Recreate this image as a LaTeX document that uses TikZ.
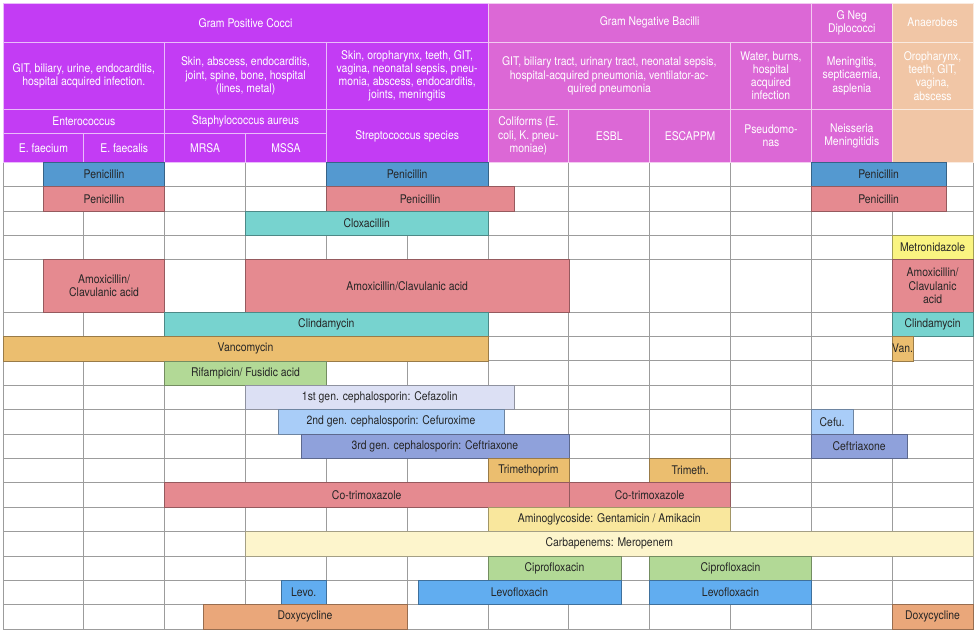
\documentclass[tikz,border=0pt]{standalone}
\usepackage{fontspec}
\setmainfont{TeX Gyre Heros}[FakeStretch=0.87]
\usepackage{tikz}

\definecolor{gposcol}{HTML}{C33CF4}
\definecolor{gnegcol}{HTML}{DC68D6}
\definecolor{anaecol}{HTML}{F1C6A6}
\definecolor{gridcol}{HTML}{9C9C9C}
\definecolor{penblue}{HTML}{5499D0}
\definecolor{penred}{HTML}{E58A90}
\definecolor{tealcol}{HTML}{77D3CF}
\definecolor{metrocol}{HTML}{FAF481}
\definecolor{orangecol}{HTML}{EBBE6F}
\definecolor{greencol}{HTML}{B2D996}
\definecolor{cephA}{HTML}{DCE0F4}
\definecolor{cephB}{HTML}{A9CDF8}
\definecolor{cephC}{HTML}{8FA1DB}
\definecolor{aminocol}{HTML}{F9E79D}
\definecolor{carbacol}{HTML}{FDF5CC}
\definecolor{levocol}{HTML}{61ADF0}
\definecolor{doxycol}{HTML}{EAA77A}

\newcommand{\tabfont}{\fontsize{12}{13.2}\selectfont}

\tikzset{
  cell/.style={draw=gridcol, line width=0.8bp},
  hdr/.style={fill=#1, draw=white!65!#1, line width=0.9bp},
  hdrtext/.style={text=white, align=center, font=\tabfont, inner sep=1bp},
  drug/.style={fill=#1, draw=#1!65!black, line width=0.6bp},
  drugtext/.style={text=black!85, align=center, font=\tabfont, inner sep=0bp},
}

\begin{document}
\begin{tikzpicture}[x=1bp,y=-1bp]
\useasboundingbox (0,0) rectangle (976,633);

% body grid
\foreach \y in {162.3,186.7,211,235.4,259.7,312,336.4,360.8,385.2,409.5,433.9,458.3,482.7,507,531.4,556,580.2,604.6,629}
  \draw[cell] (3,\y) -- (973,\y);
\foreach \x in {3,83.8,164.7,245.5,326.3,407.2,488,568.8,649.7,730.5,811.3,892.2,973}
  \draw[cell] (\x,162.3) -- (\x,629);

% header, row 1
\draw[hdr=gposcol] (3,3) rectangle (488,42.3) node[midway,hdrtext] (gpc) {Gram Positive Cocci};
\draw[hdr=gnegcol] (488,3) rectangle (811.3,42.3) node[midway,hdrtext] (gnb) {Gram Negative Bacilli};
\draw[hdr=gnegcol] (811.3,3) rectangle (892.2,42.3) node[midway,hdrtext] (gnd) {G Neg\\Diplococci};
\draw[hdr=anaecol] (892.2,3) rectangle (973,42.3) node[midway,hdrtext] (anb) {Anaerobes};

% header, row 2
\draw[hdr=gposcol] (3,42.3) rectangle (164.7,109.5) node[midway,hdrtext] (siteEnt) {GIT, biliary, urine, endocarditis,\\hospital acquired infection.};
\draw[hdr=gposcol] (164.7,42.3) rectangle (326.3,109.5) node[midway,hdrtext] (siteSta) {Skin, abscess, endocarditis,\\joint, spine, bone, hospital\\(lines, metal)};
\draw[hdr=gposcol] (326.3,42.3) rectangle (488,109.5) node[midway,hdrtext] (siteStr) {Skin, oropharynx, teeth, GIT,\\vagina, neonatal sepsis, pneu-\\monia, abscess, endocarditis,\\joints, meningitis};
\draw[hdr=gnegcol] (488,42.3) rectangle (730.5,109.5) node[midway,hdrtext] (siteCol) {GIT, biliary tract, urinary tract, neonatal sepsis,\\hospital-acquired pneumonia, ventilator-ac-\\quired pneumonia};
\draw[hdr=gnegcol] (730.5,42.3) rectangle (811.3,109.5) node[midway,hdrtext] (sitePse) {Water, burns,\\hospital\\acquired\\infection};
\draw[hdr=gnegcol] (811.3,42.3) rectangle (892.2,109.5) node[midway,hdrtext] (siteNei) {Meningitis,\\septicaemia,\\asplenia};
\draw[hdr=anaecol] (892.2,42.3) rectangle (973,109.5) node[midway,hdrtext] (siteAna) {Oropharynx,\\teeth, GIT,\\vagina,\\abscess};

% header, rows 3 and 4
\draw[hdr=gposcol] (3,109.5) rectangle (164.7,133.5) node[midway,hdrtext] (ent) {Enterococcus};
\draw[hdr=gposcol] (164.7,109.5) rectangle (326.3,133.5) node[midway,hdrtext] (sta) {Staphylococcus aureus};
\draw[hdr=gposcol] (326.3,109.5) rectangle (488,162.3) node[midway,hdrtext] (str) {Streptococcus species};
\draw[hdr=gnegcol] (488,109.5) rectangle (568.8,162.3) node[midway,hdrtext] (col) {Coliforms (E.\\coli, K. pneu-\\moniae)};
\draw[hdr=gnegcol] (568.8,109.5) rectangle (649.7,162.3) node[midway,hdrtext] (esbl) {ESBL};
\draw[hdr=gnegcol] (649.7,109.5) rectangle (730.5,162.3) node[midway,hdrtext] (escappm) {ESCAPPM};
\draw[hdr=gnegcol] (730.5,109.5) rectangle (811.3,162.3) node[midway,hdrtext] (pse) {Pseudomo-\\nas};
\draw[hdr=gnegcol] (811.3,109.5) rectangle (892.2,162.3) node[midway,hdrtext] (nei) {Neisseria\\Meningitidis};
\draw[hdr=anaecol] (892.2,109.5) rectangle (973,162.3);
\draw[hdr=gposcol] (3,133.5) rectangle (83.8,162.3) node[midway,hdrtext] (fcm) {E. faecium};
\draw[hdr=gposcol] (83.8,133.5) rectangle (164.7,162.3) node[midway,hdrtext] (fcl) {E. faecalis};
\draw[hdr=gposcol] (164.7,133.5) rectangle (245.5,162.3) node[midway,hdrtext] (mrsa) {MRSA};
\draw[hdr=gposcol] (245.5,133.5) rectangle (326.3,162.3) node[midway,hdrtext] (mssa) {MSSA};

% drugs
\draw[drug=penblue] (43.4,162.3) rectangle (164.7,186.7) node[midway,drugtext] (penEnt) {Penicillin};
\draw[drug=penblue] (326.3,162.3) rectangle (488,186.7) node[midway,drugtext] (penStr) {Penicillin};
\draw[drug=penblue] (811.3,162.3) rectangle (946,186.7) node[midway,drugtext] (penNei) {Penicillin};
\draw[drug=penred] (43.4,186.7) rectangle (164.7,211) node[midway,drugtext] (penrEnt) {Penicillin};
\draw[drug=penred] (326.3,186.7) rectangle (514,211) node[midway,drugtext] (penrStr) {Penicillin};
\draw[drug=penred] (811.3,186.7) rectangle (946,211) node[midway,drugtext] (penrNei) {Penicillin};
\draw[drug=tealcol] (245.5,211) rectangle (488,235.4) node[midway,drugtext] (clox) {Cloxacillin};
\draw[drug=metrocol] (892.2,235.4) rectangle (973,259.7) node[midway,drugtext] (metro) {Metronidazole};
\draw[drug=penred] (43.4,259.7) rectangle (164.7,312) node[midway,drugtext] (amoxEnt) {Amoxicillin/\\Clavulanic acid};
\draw[drug=penred] (245.5,259.7) rectangle (568.8,312) node[midway,drugtext] (amoxSta) {Amoxicillin/Clavulanic acid};
\draw[drug=penred] (892.2,259.7) rectangle (973,312) node[midway,drugtext] (amoxAna) {Amoxicillin/\\Clavulanic\\acid};
\draw[drug=tealcol] (164.7,312) rectangle (488,336.4) node[midway,drugtext] (clinda) {Clindamycin};
\draw[drug=tealcol] (892.2,312) rectangle (973,336.4) node[midway,drugtext] (clindaAna) {Clindamycin};
\draw[drug=orangecol] (3,336.4) rectangle (488,360.8) node[midway,drugtext] (vanco) {Vancomycin};
\draw[drug=orangecol] (892.2,336.4) rectangle (913,360.8) node[midway,drugtext] (vancoAna) {Van.};
\draw[drug=greencol] (164.7,360.8) rectangle (326.3,385.2) node[midway,drugtext] (rif) {Rifampicin/ Fusidic acid};
\draw[drug=cephA] (245.5,385.2) rectangle (514,409.5) node[midway,drugtext] (cefA) {1st gen. cephalosporin: Cefazolin};
\draw[drug=cephB] (278,409.5) rectangle (504,433.9) node[midway,drugtext] (cefB) {2nd gen. cephalosporin: Cefuroxime};
\draw[drug=cephB] (811.3,409.5) rectangle (853,433.9) node[midway,drugtext] (cefBNei) {Cefu.};
\draw[drug=cephC] (301,433.9) rectangle (568.8,458.3) node[midway,drugtext] (cefC) {3rd gen. cephalosporin: Ceftriaxone};
\draw[drug=cephC] (811.3,433.9) rectangle (907,458.3) node[midway,drugtext] (cefCNei) {Ceftriaxone};
\draw[drug=orangecol] (488,458.3) rectangle (568.8,482.7) node[midway,drugtext] (tmp) {Trimethoprim};
\draw[drug=orangecol] (649.7,458.3) rectangle (730.5,482.7) node[midway,drugtext] (tmpEsc) {Trimeth.};
\draw[drug=penred] (164.7,482.7) rectangle (568.8,507) node[midway,drugtext] (cotri) {Co-trimoxazole};
\draw[drug=penred] (568.8,482.7) rectangle (730.5,507) node[midway,drugtext] (cotriEsb) {Co-trimoxazole};
\draw[drug=aminocol] (488,507) rectangle (730.5,531.4) node[midway,drugtext] (amino) {Aminoglycoside: Gentamicin / Amikacin};
\draw[drug=carbacol] (245.5,531.4) rectangle (973,556) node[midway,drugtext] (carba) {Carbapenems: Meropenem};
\draw[drug=greencol] (488,556) rectangle (621,580.2) node[midway,drugtext] (cipro) {Ciprofloxacin};
\draw[drug=greencol] (649.7,556) rectangle (811.3,580.2) node[midway,drugtext] (ciproEsc) {Ciprofloxacin};
\draw[drug=levocol] (281,580.2) rectangle (326.3,604.6) node[midway,drugtext] (levoSta) {Levo.};
\draw[drug=levocol] (418,580.2) rectangle (621,604.6) node[midway,drugtext] (levo) {Levofloxacin};
\draw[drug=levocol] (649.7,580.2) rectangle (811.3,604.6) node[midway,drugtext] (levoEsc) {Levofloxacin};
\draw[drug=doxycol] (203,604.6) rectangle (407.2,629) node[midway,drugtext] (doxy) {Doxycycline};
\draw[drug=doxycol] (892.2,604.6) rectangle (973,629) node[midway,drugtext] (doxyAna) {Doxycycline};
\end{tikzpicture}
\end{document}
